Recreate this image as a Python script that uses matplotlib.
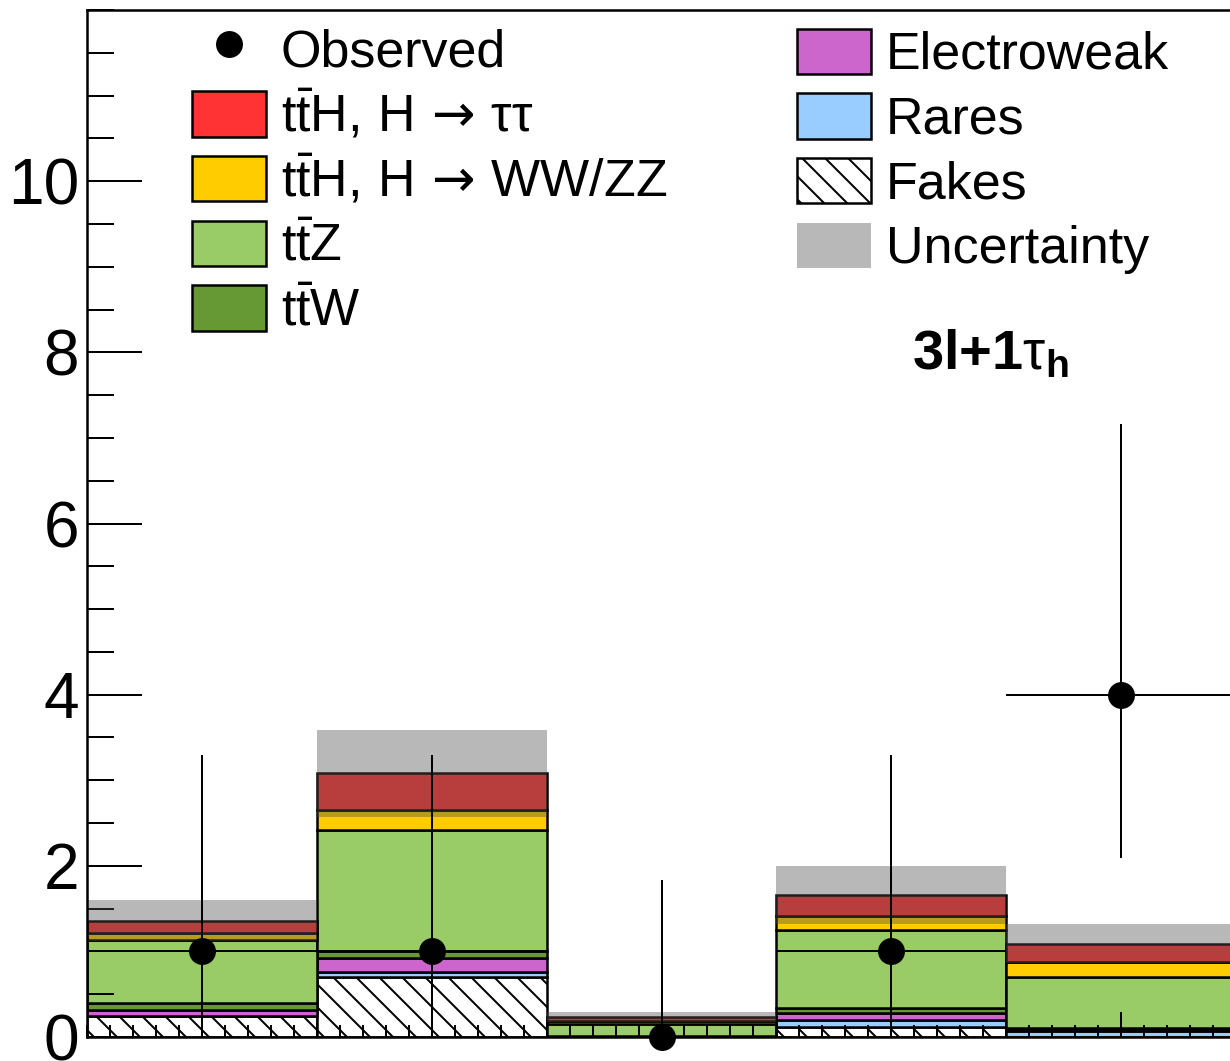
import numpy as np
import matplotlib
matplotlib.use('Agg')
import matplotlib.pyplot as plt
import matplotlib.patches as mpatches
from matplotlib.lines import Line2D
from matplotlib.legend_handler import HandlerPatch
from matplotlib.ticker import MultipleLocator, FixedLocator

# bin centres (5 bins)
bins = [1, 2, 3, 4, 5]

# stacked backgrounds / signal, bottom to top
fakes = [0.24, 0.70, 0.00, 0.12, 0.00]
rares = [0.00, 0.06, 0.00, 0.08, 0.07]
ewk = [0.08, 0.16, 0.00, 0.08, 0.01]
ttw = [0.08, 0.08, 0.01, 0.06, 0.02]
ttz = [0.73, 1.42, 0.14, 0.91, 0.60]
tth_vv = [0.09, 0.23, 0.04, 0.16, 0.18]
tth_tt = [0.14, 0.43, 0.04, 0.25, 0.21]
unc = [0.24, 0.51, 0.06, 0.34, 0.23]

obs = [1, 1, 0, 1, 4]
obs_lo = [0.17, 0.17, 0.00, 0.17, 2.09]
obs_hi = [3.30, 3.30, 1.84, 3.30, 7.16]

DPI = 138
W, H = 1230, 1061


def pt(px):
    return px * 72.0 / DPI


plt.rcParams['font.family'] = ['Liberation Sans', 'DejaVu Sans']
plt.rcParams['mathtext.fontset'] = 'custom'
plt.rcParams['mathtext.rm'] = 'Liberation Sans'
plt.rcParams['mathtext.it'] = 'Liberation Sans:italic'
plt.rcParams['mathtext.bf'] = 'Liberation Sans:bold'
plt.rcParams['mathtext.sf'] = 'DejaVu Sans'
plt.rcParams['hatch.linewidth'] = pt(2)

fig = plt.figure(figsize=(W / DPI, H / DPI), dpi=DPI)
ax = fig.add_axes([87 / W, (H - 1037) / H, 1149 / W, 1027 / H])

lab_tt = r'$\mathrm{t\bar{t}H,\,H}\,\mathsf{\rightarrow}\,\mathrm{\tau\tau}$'
lab_vv = r'$\mathrm{t\bar{t}H,\,H}\,\mathsf{\rightarrow}\,\mathrm{WW/ZZ}$'
lab_ttz = r'$\mathrm{t\bar{t}Z}$'
lab_ttw = r'$\mathrm{t\bar{t}W}$'

layers = [
    (fakes, 'white', 'Fakes', '\\\\'),
    (rares, '#99ccff', 'Rares', None),
    (ewk, '#cc66cc', 'Electroweak', None),
    (ttw, '#669933', lab_ttw, None),
    (ttz, '#99cc66', lab_ttz, None),
    (tth_vv, '#ffcc00', lab_vv, None),
    (tth_tt, '#ff3333', lab_tt, None),
]

x = np.array(bins, dtype=float)
bottom = np.zeros(len(bins))
handles = {}
for vals, col, lab, hatch in layers:
    v = np.array(vals)
    b = ax.bar(x, v, width=1.0, bottom=bottom, color=col, edgecolor='black',
               linewidth=pt(2.5), hatch=hatch, zorder=1)
    handles[lab] = b.patches[0]
    bottom = bottom + v

total = bottom
u = np.array(unc)
band = ax.bar(x, 2 * u, width=1.0, bottom=total - u, color='#4f4f4f', alpha=0.4,
              linewidth=0, zorder=2)

o = np.array(obs, dtype=float)
eb = ax.errorbar(x, o, xerr=0.5, yerr=[o - np.array(obs_lo), np.array(obs_hi) - o],
                 fmt='o', color='black', ms=pt(25), elinewidth=pt(2), capsize=0, zorder=5)
eb[0].set_clip_on(False)

ax.set_xlim(0.5, 5.5)
ax.set_ylim(0, 12)

for s in ax.spines.values():
    s.set_linewidth(pt(2.5))

ax.yaxis.set_major_locator(FixedLocator([0, 2, 4, 6, 8, 10]))
ax.yaxis.set_minor_locator(MultipleLocator(0.5))
ax.xaxis.set_major_locator(FixedLocator(bins))
ax.xaxis.set_minor_locator(MultipleLocator(0.1))
ax.tick_params(axis='y', which='major', direction='in', length=pt(55), width=pt(2),
               labelsize=pt(64), pad=pt(8))
ax.tick_params(axis='y', which='minor', direction='in', length=pt(27), width=pt(2))
ax.tick_params(axis='x', which='major', direction='in', length=pt(25), width=pt(2),
               labelbottom=False)
ax.tick_params(axis='x', which='minor', direction='in', length=pt(12), width=pt(2))


def small_box(legend, orig_handle, xdescent, ydescent, width, height, fontsize):
    hh = 0.87 * fontsize
    return mpatches.Rectangle((-xdescent, -ydescent + (height - hh) / 2), width, hh)


unc_handle = mpatches.Patch(facecolor='#4f4f4f', alpha=0.4, linewidth=0)
obs_handle = Line2D([], [], marker='o', ls='none', color='black', ms=pt(25))

fs = pt(52)
leg_kw = dict(frameon=False, fontsize=fs, handlelength=1.42, handleheight=1.24,
              handletextpad=0.29, labelspacing=0.17, borderpad=0, borderaxespad=0,
              loc='upper left', handler_map={mpatches.Rectangle: HandlerPatch(patch_func=small_box),
                                             mpatches.Patch: HandlerPatch(patch_func=small_box)})

left_labels = [lab_tt, lab_vv, lab_ttz, lab_ttw]
leg1 = ax.legend([obs_handle] + [handles[k] for k in left_labels],
                 ['Observed'] + left_labels,
                 bbox_to_anchor=((192 - 87) / 1149, (1037 - 22) / 1027), **leg_kw)
ax.add_artist(leg1)

right_labels = ['Electroweak', 'Rares', 'Fakes']
leg2 = ax.legend([handles[k] for k in right_labels] + [unc_handle],
                 right_labels + ['Uncertainty'],
                 bbox_to_anchor=((797 - 87) / 1149, (1037 - 24) / 1027), **leg_kw)

ax.text(4.43, 7.8, r'3l+1$\mathrm{\tau}_\mathbf{h}$', fontsize=pt(56), fontweight='bold',
        ha='center', va='baseline')

fig.savefig('out.png', dpi=DPI)
